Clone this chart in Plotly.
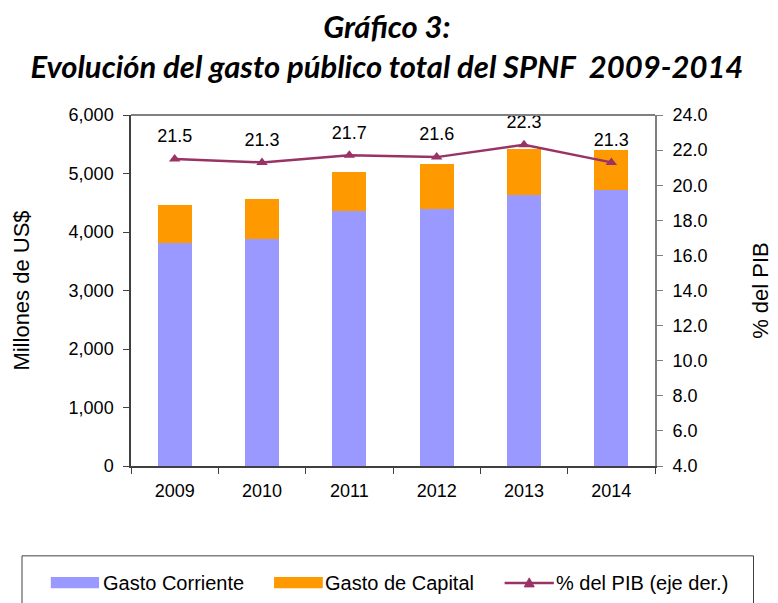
import plotly.graph_objects as go

# datos
anios = ['2009', '2010', '2011', '2012', '2013', '2014']
gasto_corriente = [3810, 3885, 4355, 4390, 4630, 4715]
gasto_capital = [650, 675, 665, 775, 790, 690]
pct_pib = [21.5, 21.3, 21.7, 21.6, 22.3, 21.3]

AZUL = '#9999FF'
NARANJA = '#FF9900'
CIRUELA = '#993366'
FUENTE = 'Liberation Sans, Arial, sans-serif'

fig = go.Figure()

fig.add_trace(go.Bar(
    x=anios, y=gasto_corriente, name='Gasto Corriente',
    marker=dict(color=AZUL, line=dict(width=0)), width=0.39,
))
fig.add_trace(go.Bar(
    x=anios, y=gasto_capital, name='Gasto de Capital',
    marker=dict(color=NARANJA, line=dict(width=0)), width=0.39,
))
fig.add_trace(go.Scatter(
    x=anios, y=pct_pib, name='% del PIB (eje der.)', yaxis='y2',
    mode='lines+markers',
    line=dict(color=CIRUELA, width=2.5),
    marker=dict(symbol='triangle-up', size=10, color=CIRUELA),
))
# etiquetas: marcador invisible para separar el texto del punto
fig.add_trace(go.Scatter(
    x=anios, y=pct_pib, yaxis='y2', mode='markers+text',
    hoverinfo='skip', cliponaxis=False,
    marker=dict(size=18, opacity=0),
    text=[f'{v:.1f}' for v in pct_pib], textposition='top center',
    textfont=dict(family=FUENTE, size=18, color='black'),
))

# leyenda dibujada a mano (la de plotly no cabe en una sola fila)
ley_y = -0.333
dx = -0.008
shapes = [
    dict(type='line', xref='paper', yref='paper', x0=0, x1=1, y0=1, y1=1,
         line=dict(color='#808080', width=2)),
    dict(type='rect', xref='paper', yref='paper', x0=-0.2 + dx, x1=1.196 + dx,
         y0=-0.256, y1=-0.42,
         line=dict(color='#404040', width=1), fillcolor='rgba(0,0,0,0)'),
    dict(type='rect', xref='paper', yref='paper', x0=-0.145 + dx, x1=-0.053 + dx,
         y0=-0.348, y1=-0.316, line=dict(width=0), fillcolor=AZUL),
    dict(type='rect', xref='paper', yref='paper', x0=0.281 + dx, x1=0.374 + dx,
         y0=-0.348, y1=-0.316, line=dict(width=0), fillcolor=NARANJA),
    dict(type='line', xref='paper', yref='paper', x0=0.721 + dx, x1=0.815 + dx,
         y0=ley_y, y1=ley_y, line=dict(color=CIRUELA, width=2.5)),
    dict(type='path', xref='paper', yref='paper', xsizemode='pixel', ysizemode='pixel',
         xanchor=0.768 + dx, yanchor=ley_y, path='M-5,-4 L5,-4 L0,5 Z',
         fillcolor=CIRUELA, line=dict(color=CIRUELA, width=1)),
]
annotations = [
    dict(text=t, x=x + dx, y=ley_y, xref='paper', yref='paper', xanchor='left',
         yanchor='middle', showarrow=False,
         font=dict(family=FUENTE, size=20, color='black'))
    for t, x in [('Gasto Corriente', -0.05), ('Gasto de Capital', 0.374),
                 ('% del PIB (eje der.)', 0.816)]
]

fig.update_layout(
    width=778, height=603,
    barmode='stack', showlegend=False,
    paper_bgcolor='white', plot_bgcolor='white',
    font=dict(family=FUENTE, size=18, color='black'),
    margin=dict(l=117, r=131, t=107, b=145),
    title=dict(
        text='<b><i>Gráfico 3:<br>Evolución del gasto público total del SPNF  2009-2014</i></b>',
        x=0.487, xanchor='center', y=0.951, yanchor='bottom',
        font=dict(family='Lato, sans-serif', size=31, color='black'),
    ),
    xaxis=dict(
        showline=True, linecolor='#404040', linewidth=1.5,
        ticks='outside', tickson='boundaries', tickangle=0,
        ticklen=6, tickcolor='#404040', showgrid=False,
        ticklabelstandoff=8,
    ),
    yaxis=dict(
        range=[0, 6000], dtick=1000, tickformat=',d',
        showline=True, linecolor='#404040', linewidth=1.5,
        ticks='outside', ticklen=6, tickcolor='#404040', showgrid=False,
        ticklabelstandoff=6,
        title=dict(text='Millones de US$', standoff=33),
    ),
    yaxis2=dict(
        range=[4, 24], dtick=2, tickformat='.1f', overlaying='y', side='right',
        showline=True, linecolor='#808080', linewidth=2,
        ticks='outside', ticklen=6, tickcolor='#808080', showgrid=False,
        ticklabelstandoff=6,
        title=dict(text='% del PIB', standoff=46),
    ),
    shapes=shapes,
    annotations=annotations,
)

fig.write_html('out.html')
